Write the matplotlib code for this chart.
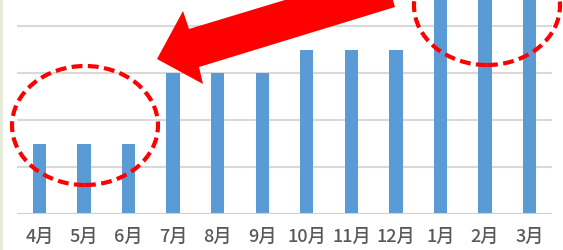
import matplotlib
matplotlib.use("Agg")
import matplotlib.pyplot as plt
from matplotlib.patches import Ellipse, Polygon
from matplotlib.lines import Line2D

plt.rcParams['font.family'] = ['Noto Sans CJK JP', 'DejaVu Sans']

months = ['4月', '5月', '6月', '7月', '8月', '9月', '10月', '11月', '12月', '1月', '2月', '3月']
values = [1.5, 1.5, 1.5, 3, 3, 3, 3.5, 3.5, 3.5, 5, 5, 5]
grid_levels = [1, 2, 3, 4]

W, H = 563, 251
fig = plt.figure(figsize=(W / 100, H / 100), dpi=100)
ax = fig.add_axes([17.25 / W, 1 - 215 / H, 534.5 / W, 215 / H])

x = range(len(months))
ax.bar(x, values, width=0.3, color='#5B9BD5', zorder=2)
for g in grid_levels:
    ax.axhline(g, color='#d9d9d9', lw=1.5, zorder=1)
ax.axhline(0, color='#d0d0d0', lw=1.5, zorder=3)

ax.set_xlim(-0.5, len(months) - 0.5)
ax.set_ylim(0, 215 / 47)
ax.set_xticks(list(x))
ax.set_xticklabels(months, fontsize=13, color='#595959', fontweight='medium')
ax.tick_params(axis='x', length=0, pad=9)
ax.set_yticks([])
for s in ax.spines.values():
    s.set_visible(False)


def px(xp, yp):
    return (xp / W, 1 - yp / H)


# pale left border
fig.add_artist(Line2D([1 / W, 1 / W], [0, 1], color='#e6ead6', lw=2))

# dashed red ellipses
ell_style = dict(fill=False, edgecolor='#ff0000', lw=3, linestyle=(0, (2.6, 1.3)),
                 transform=fig.transFigure, zorder=10)
fig.add_artist(Ellipse(px(85, 126.5), 146 / W, 119 / H, **ell_style))
fig.add_artist(Ellipse(px(487, 6.5), 146 / W, 119 / H, **ell_style))

# red arrow
arrow_pts = [px(157, 60), px(183, 12), px(189, 30), px(384, -29),
             px(395, 8), px(199, 68), px(203, 85)]
fig.add_artist(Polygon(arrow_pts, closed=True, facecolor='#ff0000', edgecolor='none',
                       transform=fig.transFigure, zorder=11))

fig.savefig('out.png', dpi=100)
